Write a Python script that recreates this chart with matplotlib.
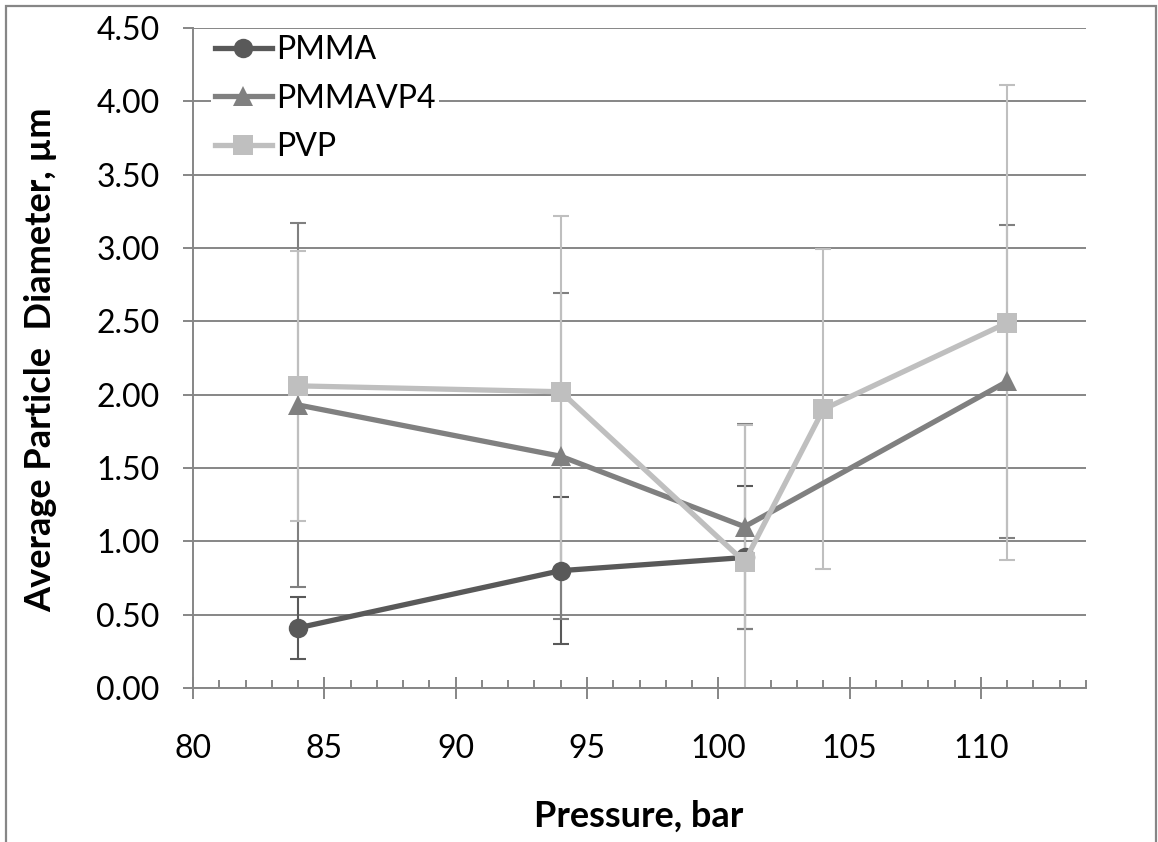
import matplotlib as mpl
import matplotlib.pyplot as plt
from matplotlib.patches import Rectangle
from matplotlib.ticker import MultipleLocator, FormatStrFormatter

mpl.rcParams.update({
    "font.family": ["Lato", "DejaVu Sans"],
    "axes.linewidth": 1.4,
})

pmma_x = [84, 94, 101]
pmma_y = [0.41, 0.80, 0.89]
pmma_err = [0.21, 0.50, 0.49]

vp4_x = [84, 94, 101, 111]
vp4_y = [1.93, 1.58, 1.10, 2.09]
vp4_err = [1.24, 1.11, 0.70, 1.07]

pvp_x = [84, 94, 101, 104, 111]
pvp_y = [2.06, 2.02, 0.86, 1.90, 2.49]
pvp_err = [0.92, 1.20, 0.93, 1.09, 1.62]

series = [
    ("PMMA", pmma_x, pmma_y, pmma_err, "#595959", "o"),
    ("PMMAVP4", vp4_x, vp4_y, vp4_err, "#808080", "^"),
    ("PVP", pvp_x, pvp_y, pvp_err, "#bfbfbf", "s"),
]

grid_col = "#868686"

fig = plt.figure(figsize=(11.58, 8.42), dpi=100)
ax = fig.add_axes([193 / 1158, 1 - 688 / 842, (1086 - 193) / 1158, (688 - 28) / 842])

# error bars sit behind the lines
for name, x, y, err, col, mk in series:
    ax.errorbar(x, y, yerr=err, fmt="none", ecolor=col, elinewidth=1.5,
                capsize=6, capthick=1.5, zorder=2)

for i, (name, x, y, err, col, mk) in enumerate(series):
    ax.plot(x, y, color=col, lw=3.8, marker=mk, markersize=14,
            markeredgewidth=0, label=name, zorder=3 + i)

ax.set_xlim(80, 114)
ax.set_ylim(0, 4.5)
ax.xaxis.set_major_locator(MultipleLocator(5))
ax.xaxis.set_minor_locator(MultipleLocator(1))
ax.yaxis.set_major_locator(MultipleLocator(0.5))
ax.yaxis.set_major_formatter(FormatStrFormatter("%.2f"))

ax.grid(axis="y", color=grid_col, lw=1.4, zorder=1)
ax.set_axisbelow(True)
for s in ["top", "right"]:
    ax.spines[s].set_visible(False)
for s in ["left", "bottom"]:
    ax.spines[s].set_color(grid_col)

ax.tick_params(axis="x", which="major", direction="inout", length=16, width=1.4,
               color=grid_col, labelsize=23, pad=25)
ax.tick_params(axis="x", which="minor", direction="in", length=6, width=1.4,
               color=grid_col)
ax.tick_params(axis="y", which="major", direction="out", length=7, width=1.4,
               color=grid_col, labelsize=23, pad=17)

ax.set_xlabel("Pressure, bar", fontsize=26, fontweight="bold")
ax.set_ylabel("Average Particle  Diameter, µm", fontsize=26, fontweight="bold")
ax.xaxis.set_label_coords((639 - 193) / (1086 - 193), -(800 - 688) / 660)
ax.yaxis.set_label_coords(-(193 - 57) / (1086 - 193), (688 - 360) / 660)

leg = ax.legend(loc="upper left", bbox_to_anchor=(0.02, 0.995), fontsize=23,
                frameon=True, fancybox=False, edgecolor="none", framealpha=1,
                handlelength=1.8, handletextpad=0.12, labelspacing=0.58,
                borderpad=0.12, borderaxespad=0, numpoints=1)
leg.set_zorder(10)

fig.patches.append(Rectangle((5.5 / 1158, -0.02), 1150 / 1158, (842 - 5.5) / 842 + 0.02,
                             transform=fig.transFigure, fill=False,
                             edgecolor=grid_col, lw=1.6))

fig.savefig("out.png", dpi=100)
